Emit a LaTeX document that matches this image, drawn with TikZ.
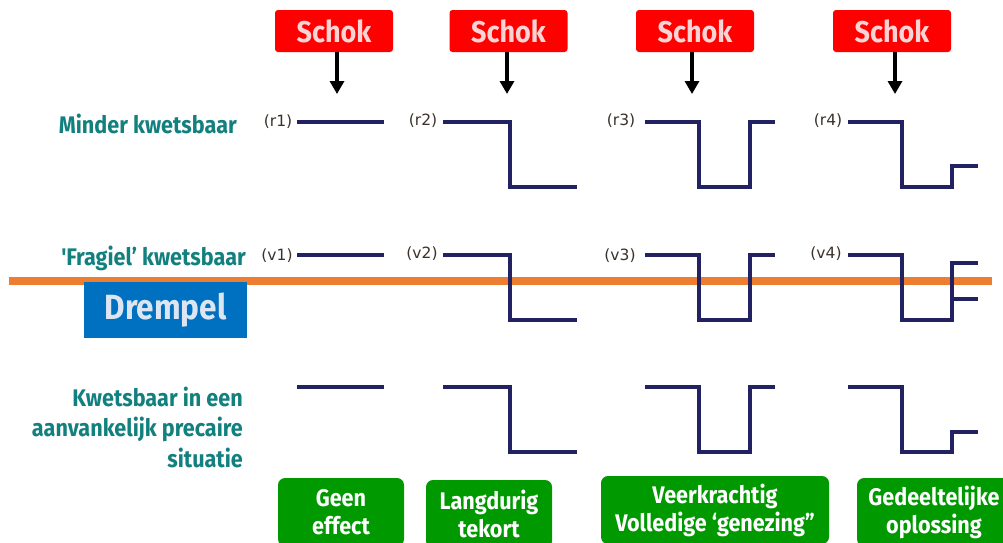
\documentclass[tikz,border=0pt]{standalone}
\usepackage{fontspec}
\setmainfont{Fira Sans}
\newfontfamily\cond[FakeStretch=0.9]{Fira Sans}
\newfontfamily\tagfont{DejaVu Sans}
\usetikzlibrary{arrows.meta}

\definecolor{shockred}{RGB}{255,0,0}
\definecolor{shocktext}{RGB}{250,212,212}
\definecolor{tealtext}{RGB}{18,128,126}
\definecolor{navy}{RGB}{34,34,98}
\definecolor{threshold}{RGB}{237,125,49}
\definecolor{blueband}{RGB}{0,112,192}
\definecolor{bluetext}{RGB}{220,230,242}
\definecolor{okgreen}{RGB}{0,153,0}
\definecolor{tagtext}{RGB}{58,50,42}

\tikzset{
  shockbox/.style={fill=shockred, rounded corners=3pt, minimum width=118pt,
    minimum height=42pt, inner sep=0pt, text=shocktext,
    font=\cond\bfseries\fontsize{30}{32}\selectfont},
  shockarrow/.style={draw=black, line width=3.6pt,
    -{Triangle[width=14pt,length=13pt]}},
  tag/.style={font=\tagfont\fontsize{15.5}{17}\selectfont, text=tagtext, inner sep=0pt},
  level/.style={draw=navy, line width=3.8pt},
  rowlabel/.style={anchor=east, align=right, text=tealtext, inner sep=0pt,
    font=\cond\bfseries\fontsize{24}{30.5}\selectfont},
  outcome/.style={fill=okgreen, rounded corners=7pt, text=white, align=center,
    minimum height=68pt, inner sep=0pt,
    font=\cond\bfseries\fontsize{24}{28}\selectfont},
}

\begin{document}
\begin{tikzpicture}[x=1pt,y=-1pt]
  \useasboundingbox (0,0) rectangle (1003,542);
  \clip (0,0) rectangle (1003,542);
  \fill[white] (0,0) rectangle (1003,542);

  % shocks
  \node[shockbox] (s1) at (334,31) {Schok};
  \node[shockbox] (s2) at (508.5,31) {Schok};
  \node[shockbox] (s3) at (695,31) {Schok};
  \node[shockbox] (s4) at (892,31) {Schok};
  \coordinate (a1) at (337,94);
  \coordinate (a2) at (507,94);
  \coordinate (a3) at (692,94);
  \coordinate (a4) at (895,94);
  \draw[shockarrow] (s1.south -| a1) -- (a1);
  \draw[shockarrow] (s2.south -| a2) -- (a2);
  \draw[shockarrow] (s3.south -| a3) -- (a3);
  \draw[shockarrow] (s4.south -| a4) -- (a4);

  % row labels
  \node[rowlabel] (lr) at (237,124) {Minder kwetsbaar};
  \node[rowlabel] (lv) at (246,258) {'Fragiel’ kwetsbaar};
  \node[rowlabel] (lk) at (243,427) {Kwetsbaar in een\\aanvankelijk precaire\\situatie};

  % threshold band
  \fill[threshold] (9,277) rectangle (992,285);
  \node[fill=blueband, minimum width=163pt, minimum height=56pt, inner sep=0pt,
        text=bluetext, font=\cond\bfseries\fontsize{35}{40}\selectfont]
        (drempel) at (165.5,310) {Drempel};

  % row r
  \node[tag] (r1) at (278,122) {(r1)};
  \node[tag] (r2) at (423,121) {(r2)};
  \node[tag] (r3) at (621,121) {(r3)};
  \node[tag] (r4) at (828,121) {(r4)};
  \draw[level] (297,122) -- (384,122);
  \draw[level] (443,122) -- (510,122) -- (510,187) -- (577,187);
  \draw[level] (645,122) -- (699,122) -- (699,187) -- (750,187) -- (750,122) -- (775,122);
  \draw[level] (848,122) -- (902,122) -- (902,187) -- (952,187) -- (952,166) -- (978,166);

  % row v
  \node[tag] (v1) at (277,256) {(v1)};
  \node[tag] (v2) at (422,254) {(v2)};
  \node[tag] (v3) at (620,256) {(v3)};
  \node[tag] (v4) at (826,254) {(v4)};
  \draw[level] (297,255) -- (384,255);
  \draw[level] (443,255) -- (510,255) -- (510,320) -- (577,320);
  \draw[level] (645,255) -- (699,255) -- (699,320) -- (750,320) -- (750,255) -- (775,255);
  \draw[level] (848,255) -- (902,255) -- (902,320) -- (952,320) -- (952,263) -- (978,263);
  \draw[level] (952,299) -- (978,299);

  % row k
  \draw[level] (297,387) -- (384,387);
  \draw[level] (443,387) -- (510,387) -- (510,452) -- (577,452);
  \draw[level] (645,387) -- (699,387) -- (699,452) -- (750,452) -- (750,387) -- (775,387);
  \draw[level] (848,387) -- (902,387) -- (902,452) -- (952,452) -- (952,432) -- (978,432);

  % outcomes
  \node[outcome, minimum width=126pt] (o1) at (341,512) {Geen\\effect};
  \node[outcome, minimum width=126pt] (o2) at (489,514) {Langdurig\\tekort};
  \node[outcome, minimum width=228pt] (o3) at (715,510) {Veerkrachtig\\Volledige ‘genezing”};
  \node[outcome, minimum width=154pt] (o4) at (934,512) {Gedeeltelijke\\oplossing};
\end{tikzpicture}
\end{document}
